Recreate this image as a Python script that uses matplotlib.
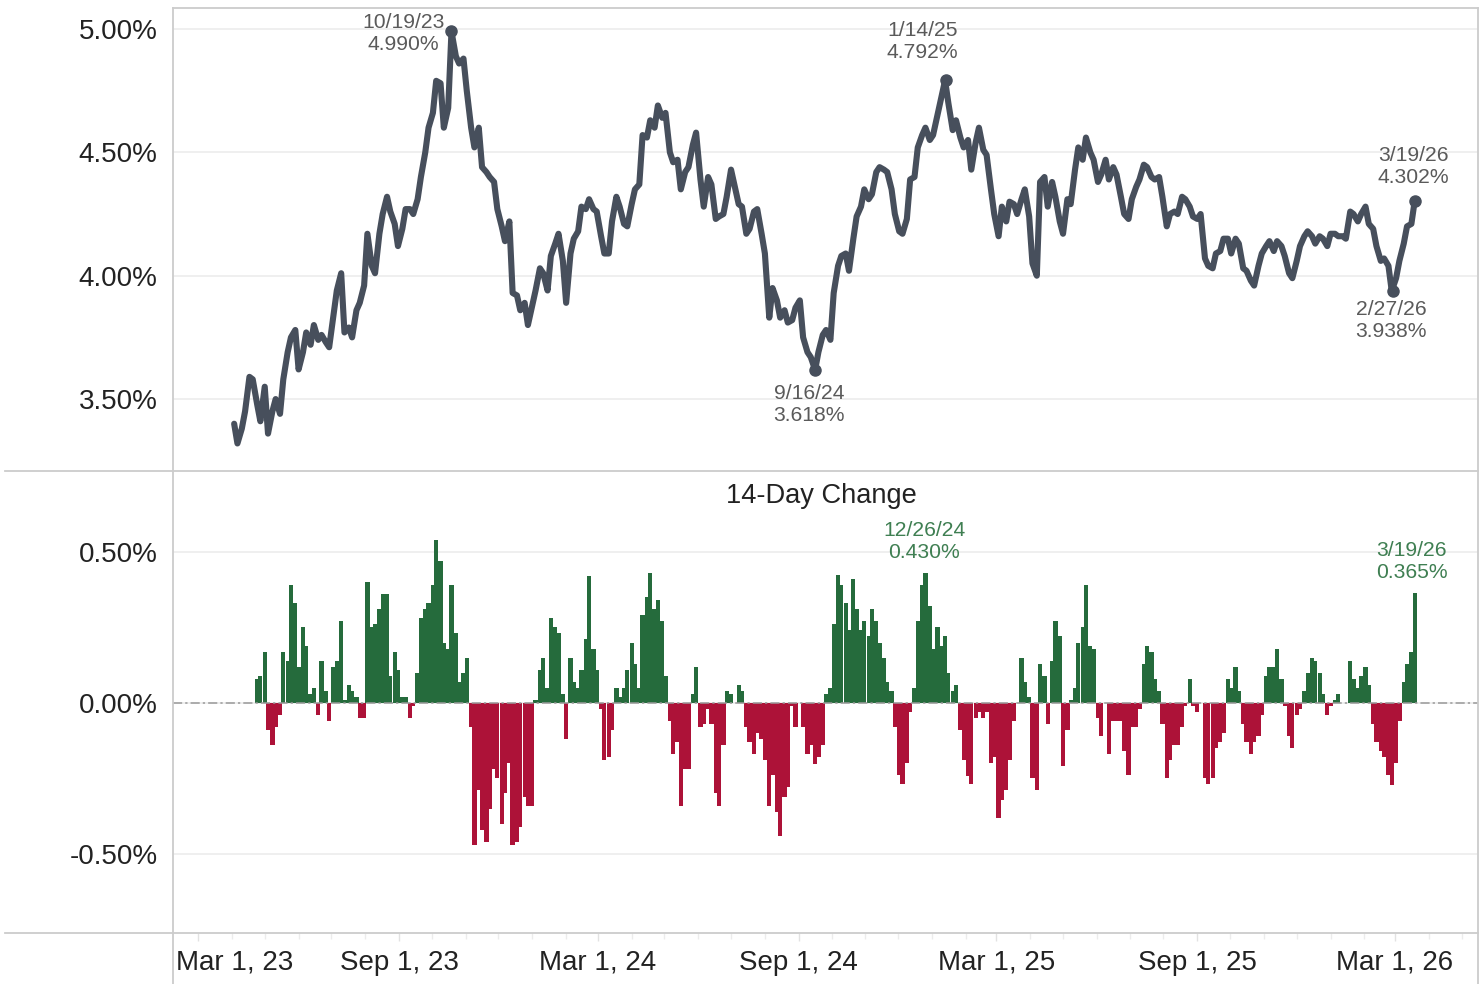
import numpy as np
import pandas as pd
import matplotlib
matplotlib.use("Agg")
import matplotlib.pyplot as plt
import matplotlib.dates as mdates
from matplotlib.lines import Line2D
from matplotlib.ticker import FuncFormatter, FixedLocator
from matplotlib.transforms import ScaledTranslation

# ---------------- data (10Y yield, %; Mon/Thu sampling) ----------------
yield_2023 = [
    3.40, 3.32, 3.38, 3.45, 3.59, 3.58, 3.48, 3.41, 3.55, 3.36,
    3.45, 3.50, 3.44, 3.58, 3.69, 3.75, 3.78, 3.62, 3.69, 3.77,
    3.72, 3.80, 3.74, 3.76, 3.73, 3.71, 3.84, 3.94, 4.01, 3.77,
    3.79, 3.75, 3.86, 3.89, 3.96, 4.17, 4.04, 4.01, 4.17, 4.25,
    4.32, 4.26, 4.21, 4.12, 4.19, 4.27, 4.27, 4.25, 4.31, 4.40,
    4.50, 4.60, 4.66, 4.79, 4.78, 4.60, 4.68, 4.99, 4.89, 4.86,
    4.88, 4.75, 4.60, 4.52, 4.60, 4.44, 4.42, 4.40, 4.38, 4.27,
    4.20, 4.14, 4.22, 3.93, 3.92, 3.86, 3.89, 3.80,
]
yield_2024 = [
    3.88, 3.94, 4.03, 4.01, 3.94, 4.08, 4.13, 4.17, 4.06, 3.89,
    4.09, 4.15, 4.18, 4.28, 4.27, 4.31, 4.27, 4.26, 4.16, 4.09,
    4.09, 4.22, 4.32, 4.28, 4.21, 4.20, 4.29, 4.35, 4.37, 4.57,
    4.56, 4.63, 4.60, 4.69, 4.64, 4.66, 4.50, 4.46, 4.47, 4.35,
    4.42, 4.44, 4.53, 4.58, 4.39, 4.28, 4.40, 4.37, 4.23, 4.24,
    4.25, 4.32, 4.43, 4.37, 4.29, 4.28, 4.17, 4.19, 4.26, 4.27,
    4.17, 4.09, 3.83, 3.95, 3.90, 3.83, 3.86, 3.81, 3.82, 3.87,
    3.90, 3.75, 3.69, 3.67, 3.618, 3.69, 3.76, 3.78, 3.74, 3.93,
    4.04, 4.08, 4.09, 4.02, 4.15, 4.24, 4.28, 4.35, 4.31, 4.33,
    4.42, 4.44, 4.43, 4.42, 4.35, 4.25, 4.18, 4.17, 4.23, 4.39,
    4.40, 4.52, 4.57, 4.60, 4.55,
]
yield_2025 = [
    4.57, 4.65, 4.71, 4.792, 4.70, 4.59, 4.63, 4.56, 4.52, 4.55,
    4.43, 4.54, 4.60, 4.51, 4.49, 4.35, 4.25, 4.16, 4.28, 4.22,
    4.30, 4.29, 4.25, 4.31, 4.35, 4.24, 4.05, 4.00, 4.38, 4.40,
    4.28, 4.38, 4.32, 4.22, 4.17, 4.31, 4.29, 4.43, 4.52, 4.47,
    4.56, 4.50, 4.47, 4.38, 4.41, 4.47, 4.39, 4.44, 4.41, 4.32,
    4.25, 4.23, 4.31, 4.36, 4.39, 4.45, 4.44, 4.40, 4.39, 4.40,
    4.32, 4.20, 4.25, 4.26, 4.25, 4.32, 4.31, 4.28, 4.24, 4.23,
    4.25, 4.07, 4.04, 4.03, 4.09, 4.10, 4.15, 4.15, 4.09, 4.15,
    4.13, 4.03, 4.02, 3.98, 3.96, 4.04, 4.09, 4.12, 4.14, 4.10,
    4.14, 4.12, 4.08, 4.01, 3.99, 4.06, 4.12, 4.16, 4.18, 4.16,
    4.13, 4.16, 4.15, 4.12,
]
yield_2026 = [
    4.17, 4.17, 4.16, 4.16, 4.15, 4.26, 4.25, 4.22, 4.25, 4.28,
    4.21, 4.19, 4.12, 4.06, 4.07, 4.04, 3.938, 3.99, 4.06, 4.13,
    4.20, 4.21, 4.302,
]
first_monday = "2023-04-03"
n_weeks = 155
change_lag = 6  # grid steps (3 weeks ~ 14 trading days)

top_annot_dates = ["2023-10-19", "2024-09-16", "2025-01-14", "2026-02-27", "2026-03-19"]
top_annot_values = [4.990, 3.618, 4.792, 3.938, 4.302]
top_annot_labels = ["10/19/23\n4.990%", "9/16/24\n3.618%", "1/14/25\n4.792%",
                    "2/27/26\n3.938%", "3/19/26\n4.302%"]
top_annot_offsets = [(-48, -2), (-6, -35), (-24, 39), (-2, -29), (-1, 35)]

bar_annot_dates = ["2024-12-26", "2026-03-19"]
bar_annot_values = [0.430, 0.365]
bar_annot_labels = ["12/26/24\n0.430%", "3/19/26\n0.365%"]
bar_annot_offsets = [(-1, 32), (-3, 31)]

x_tick_dates = ["2023-03-01", "2023-09-01", "2024-03-01", "2024-09-01",
                "2025-03-01", "2025-09-01", "2026-03-01"]
x_tick_labels = ["Mar 1, 23", "Sep 1, 23", "Mar 1, 24", "Sep 1, 24",
                 "Mar 1, 25", "Sep 1, 25", "Mar 1, 26"]
top_ticks = [3.5, 4.0, 4.5, 5.0]
bottom_ticks = [-0.5, 0.0, 0.5]

# ---------------- build series ----------------
mondays = pd.date_range(first_monday, periods=n_weeks, freq="7D")
thursdays = mondays + pd.Timedelta(days=3)
dates = pd.DatetimeIndex(np.ravel(np.column_stack([mondays.values, thursdays.values])))
values = np.array(yield_2023 + yield_2024 + yield_2025 + yield_2026)
assert len(values) == len(dates)

change = values[change_lag:] - values[:-change_lag]
change_dates = dates[change_lag:]

# ---------------- style ----------------
plt.rcParams["font.family"] = ["Liberation Sans", "DejaVu Sans"]
LINE_C = "#474f5c"
GREEN = "#256b3c"
RED = "#ad1238"
FRAME = "#cccccc"
GRID = "#ececec"
TXT = "#222222"
ANN = "#5a5a5a"
ANN_G = "#3f7f52"

W, H = 1484, 984
fig = plt.figure(figsize=(W / 100, H / 100), dpi=100)
fig.patch.set_facecolor("white")

L, R = 173, 1478
T1, B1, B2 = 8, 471, 933
ax1 = fig.add_axes([L / W, 1 - B1 / H, (R - L) / W, (B1 - T1) / H])
ax2 = fig.add_axes([L / W, 1 - B2 / H, (R - L) / W, (B2 - B1) / H], sharex=ax1)

for ax in (ax1, ax2):
    for s in ax.spines.values():
        s.set_visible(False)
    ax.yaxis.grid(True, color=GRID, lw=1.2)
    ax.set_axisbelow(True)
    ax.tick_params(axis="y", length=0, pad=11, labelsize=20, labelcolor=TXT)
    ax.yaxis.set_major_formatter(FuncFormatter(lambda v, p: f"{v:.2f}%"))

# top: yield line
ax1.plot(dates, values, color=LINE_C, lw=4.4, solid_joinstyle="round", solid_capstyle="round", zorder=3)
ax1.plot(pd.to_datetime(top_annot_dates), top_annot_values, "o", ms=8, color=LINE_C, zorder=4)
for d, v, lab, off in zip(top_annot_dates, top_annot_values, top_annot_labels, top_annot_offsets):
    ax1.annotate(lab, xy=(pd.Timestamp(d), v), xytext=off, textcoords="offset pixels",
                 ha="center", va="center", fontsize=15.2, color=ANN, zorder=5)
ax1.set_ylim(3.2084, 5.0851)
ax1.set_yticks(top_ticks)
ax1.tick_params(axis="x", which="both", bottom=False, labelbottom=False)

# bottom: change bars
colors = np.where(change >= 0, GREEN, RED)
ax2.bar(change_dates, change, width=3.9, color=colors, linewidth=0, align="center", zorder=3)
ax2.axhline(0, color="#9a9a9a", lw=1.1, dashes=[6, 2, 1.5, 2], zorder=4)
for d, v, lab, off in zip(bar_annot_dates, bar_annot_values, bar_annot_labels, bar_annot_offsets):
    ax2.annotate(lab, xy=(pd.Timestamp(d), v), xytext=off, textcoords="offset pixels",
                 ha="center", va="center", fontsize=15.2, color=ANN_G, zorder=5)
ax2.set_ylim(-0.762, 0.768)
ax2.set_yticks(bottom_ticks)

ax2.set_xlim(pd.Timestamp("2023-02-06"), pd.Timestamp("2026-05-16"))
ax2.xaxis.set_major_locator(FixedLocator(mdates.date2num(pd.to_datetime(x_tick_dates))))
ax2.xaxis.set_major_formatter(FuncFormatter(lambda v, p: x_tick_labels[p] if p is not None and p < len(x_tick_labels) else ""))
ax2.xaxis.set_minor_locator(mdates.MonthLocator())
ax2.tick_params(axis="x", which="major", length=6, width=1, color="#e2e2e2", pad=6,
                labelsize=20, labelcolor=TXT)
ax2.tick_params(axis="x", which="minor", length=4, width=1, color="#ececec")
ax2.set_xticklabels(x_tick_labels)
first = ax2.xaxis.get_major_ticks()[0].label1
first.set_transform(first.get_transform() + ScaledTranslation(37 / 100, 0, fig.dpi_scale_trans))

fig.text(821 / W, 1 - 496 / H, "14-Day Change", ha="center", va="center", fontsize=19.6, color=TXT)

# frame lines (figure coordinates)
def fline(x0, y0, x1, y1):
    fig.add_artist(Line2D([x0 / W, x1 / W], [1 - y0 / H, 1 - y1 / H], color=FRAME, lw=1.3))

fline(L, T1, R, T1)
fline(5, B1, R, B1)
fline(5, B2, R, B2)
fline(L, T1, L, H)
fline(R, T1, R, H)

fig.savefig("out.png", dpi=100, facecolor="white")
